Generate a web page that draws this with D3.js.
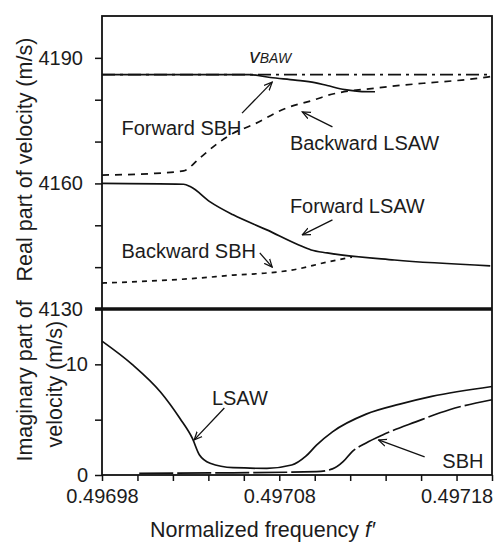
<!DOCTYPE html>
<html>
<head>
<meta charset="utf-8">
<script src="https://cdn.jsdelivr.net/npm/d3@7/dist/d3.min.js"></script>
<style>
body { margin: 0; background: #fff; }
text { font-family: "Liberation Sans", Arial, sans-serif; fill: #1c1c1c; }
</style>
</head>
<body>
<svg width="498" height="543"></svg>
<script>
// normalized frequency f' and velocities
var fBAW = [0.49698, 0.49720];
var vBAW = [4186, 4186];

var fFwdSBH = [0.496980, 0.497063, 0.497075, 0.497089, 0.497100, 0.497107, 0.497117, 0.497125, 0.497134];
var vFwdSBH = [4186.0, 4186.0, 4185.3, 4184.7, 4184.1, 4183.4, 4182.4, 4182.0, 4181.9];

var fBwdLSAW = [0.496980, 0.497010, 0.497026, 0.497035, 0.497045, 0.497054, 0.497065, 0.497084, 0.497100, 0.497107, 0.497135, 0.497163, 0.497183, 0.497199];
var vBwdLSAW = [4162.0, 4162.4, 4163.0, 4166.0, 4169.5, 4172.0, 4174.0, 4178.0, 4180.0, 4181.0, 4182.8, 4184.0, 4184.7, 4185.5];

var fFwdLSAW = [0.496980, 0.497026, 0.497030, 0.497041, 0.497054, 0.497073, 0.497091, 0.497098, 0.497107, 0.497145, 0.497199];
var vFwdLSAW = [4160.0, 4159.8, 4159.2, 4155.6, 4152.5, 4148.9, 4145.3, 4144.1, 4143.4, 4141.7, 4140.3];

var fBwdSBH = [0.496980, 0.497017, 0.497035, 0.497054, 0.497073, 0.497087, 0.497107, 0.497121];
var vBwdSBH = [4136.2, 4136.9, 4137.4, 4138.1, 4138.6, 4139.3, 4141.2, 4142.4];

// imaginary part
var fImLSAW = [0.496980, 0.496997, 0.497013, 0.497024, 0.497031, 0.497035, 0.497041, 0.497054, 0.497073, 0.497087, 0.497095, 0.497101, 0.497110, 0.497129, 0.497148, 0.497166, 0.497200];
var iImLSAW = [12.1, 10.0, 7.5, 5.1, 3.3, 1.8, 1.06, 0.66, 0.6, 0.9, 1.7, 2.7, 3.9, 5.5, 6.4, 7.1, 8.0];

var fImSBH = [0.497001, 0.497054, 0.497101, 0.497110, 0.497116, 0.497121, 0.497129, 0.497138, 0.497157, 0.497176, 0.497200];
var iImSBH = [0.15, 0.2, 0.3, 0.55, 1.2, 2.1, 2.9, 3.6, 4.8, 5.9, 6.8];

var reTicks = [4130, 4140, 4150, 4160, 4170, 4180, 4190];
var reLabels = [4130, 4160, 4190];
var imTicks = [0, 5, 10];
var imLabels = [0, 10];
var fTicks = d3.range(0, 12).map(function(i) { return 0.49698 + i * 0.00002; });
var fLabels = ["0.49698", "0.49708", "0.49718"];

// annotations in data units
var reNotes = [
  {text: "Forward SBH", f: 0.496991, v: 4171.6},
  {text: "Backward LSAW", f: 0.497086, v: 4168.0},
  {text: "Forward LSAW", f: 0.497086, v: 4152.9},
  {text: "Backward SBH", f: 0.496991, v: 4142.2}
];
var reArrows = [
  {f1: 0.497059, v1: 4176.8, f2: 0.497076, v2: 4184.2},
  {f1: 0.497110, v1: 4173.5, f2: 0.497093, v2: 4177.1},
  {f1: 0.497110, v1: 4151.3, f2: 0.497093, v2: 4147.7},
  {f1: 0.497069, v1: 4143.4, f2: 0.497076, v2: 4140.0}
];
var imNotes = [
  {text: "LSAW", f: 0.497042, v: 6.33},
  {text: "SBH", f: 0.497172, v: 0.63}
];
var imArrows = [
  {f1: 0.497049, v1: 6.06, f2: 0.497032, v2: 3.17},
  {f1: 0.497162, v1: 1.63, f2: 0.497136, v2: 3.17}
];

var svg = d3.select("svg");
var plotLeft = 102, plotRight = 492, plotTop = 16, plotMid = 309, plotBottom = 475;

var x = d3.scaleLinear().domain([0.49698, 0.49720]).range([plotLeft, plotRight]);
var yRe = d3.scaleLinear().domain([4130, 4200]).range([plotMid, plotTop]);
var yIm = d3.scaleLinear().domain([0, 15]).range([plotBottom, plotMid]);

// arrow head
svg.append("defs").append("marker")
    .attr("id", "head")
    .attr("viewBox", "0 0 10 10")
    .attr("refX", 9).attr("refY", 5)
    .attr("markerWidth", 9).attr("markerHeight", 9)
    .attr("markerUnits", "userSpaceOnUse")
    .attr("orient", "auto")
  .append("path")
    .attr("d", "M0,1 L9,5 L0,9")
    .attr("fill", "none")
    .attr("stroke", "#111")
    .attr("stroke-width", 1.4);

// axes
var gRe = svg.append("g")
    .attr("transform", "translate(" + plotLeft + ",0)")
    .call(d3.axisLeft(yRe).tickValues(reTicks).tickSize(7).tickPadding(12)
        .tickFormat(function(d) { return reLabels.indexOf(d) >= 0 ? d : ""; }));

var gIm = svg.append("g")
    .attr("transform", "translate(" + plotLeft + ",0)")
    .call(d3.axisLeft(yIm).tickValues(imTicks).tickSize(7).tickPadding(7)
        .tickFormat(function(d) { return imLabels.indexOf(d) >= 0 ? d : ""; }));

var gX = svg.append("g")
    .attr("transform", "translate(0," + plotBottom + ")")
    .call(d3.axisBottom(x).tickValues(fTicks).tickSize(6).tickPadding(8)
        .tickFormat(function(d, i) { return i % 5 == 0 ? fLabels[i / 5] : ""; }));

[gRe, gIm, gX].forEach(function(g) {
  g.select(".domain").remove();
  g.attr("font-size", 20).attr("font-family", null);
  g.selectAll("line").attr("stroke", "#111").attr("stroke-width", 1.5);
  g.selectAll("text").attr("fill", "#1c1c1c");
});

// frame
var frame = svg.append("g").attr("fill", "none").attr("stroke", "#111");
frame.append("rect")
    .attr("x", plotLeft).attr("y", plotTop)
    .attr("width", plotRight - plotLeft).attr("height", plotBottom - plotTop)
    .attr("stroke-width", 1.8);
frame.append("line")
    .attr("x1", plotLeft - 7).attr("x2", plotRight)
    .attr("y1", plotMid).attr("y2", plotMid)
    .attr("stroke-width", 3.5);

function zip(fs, vs) {
  return fs.map(function(f, i) { return [f, vs[i]]; });
}

var lineRe = d3.line()
    .x(function(d) { return x(d[0]); })
    .y(function(d) { return yRe(d[1]); })
    .curve(d3.curveMonotoneX);
var lineIm = d3.line()
    .x(function(d) { return x(d[0]); })
    .y(function(d) { return yIm(d[1]); })
    .curve(d3.curveMonotoneX);

var series = [
  {line: lineRe, data: zip(fBAW, vBAW), dash: "13,5,3,5"},
  {line: lineRe, data: zip(fFwdSBH, vFwdSBH), dash: null},
  {line: lineRe, data: zip(fBwdLSAW, vBwdLSAW), dash: "7,6"},
  {line: lineRe, data: zip(fFwdLSAW, vFwdLSAW), dash: null},
  {line: lineRe, data: zip(fBwdSBH, vBwdSBH), dash: "5,5"},
  {line: lineIm, data: zip(fImLSAW, iImLSAW), dash: null},
  {line: lineIm, data: zip(fImSBH, iImSBH), dash: "34,4"}
];

svg.append("g").selectAll("path")
  .data(series)
  .enter().append("path")
    .attr("d", function(d) { return d.line(d.data); })
    .attr("fill", "none")
    .attr("stroke", "#111")
    .attr("stroke-width", 1.7)
    .attr("stroke-dasharray", function(d) { return d.dash; });

// labels and arrows
svg.append("g").selectAll("text")
  .data(reNotes)
  .enter().append("text")
    .attr("x", function(d) { return x(d.f); })
    .attr("y", function(d) { return yRe(d.v); })
    .attr("font-size", 20)
    .text(function(d) { return d.text; });

svg.append("g").selectAll("text")
  .data(imNotes)
  .enter().append("text")
    .attr("x", function(d) { return x(d.f); })
    .attr("y", function(d) { return yIm(d.v); })
    .attr("font-size", 20)
    .text(function(d) { return d.text; });

svg.append("g").selectAll("line")
  .data(reArrows.map(function(a) { return {x1: x(a.f1), y1: yRe(a.v1), x2: x(a.f2), y2: yRe(a.v2)}; })
    .concat(imArrows.map(function(a) { return {x1: x(a.f1), y1: yIm(a.v1), x2: x(a.f2), y2: yIm(a.v2)}; })))
  .enter().append("line")
    .attr("x1", function(d) { return d.x1; })
    .attr("y1", function(d) { return d.y1; })
    .attr("x2", function(d) { return d.x2; })
    .attr("y2", function(d) { return d.y2; })
    .attr("stroke", "#111")
    .attr("stroke-width", 1.3)
    .attr("marker-end", "url(#head)");

// v_BAW label
var vb = svg.append("text")
    .attr("x", x(0.497063))
    .attr("y", yRe(4188.8))
    .attr("font-style", "italic");
vb.append("tspan").attr("font-size", 21).text("v");
vb.append("tspan").attr("font-size", 14).text("BAW");

// axis titles
svg.append("text")
    .attr("transform", "translate(32," + yRe(4165.7) + ") rotate(-90)")
    .attr("text-anchor", "middle")
    .attr("font-size", 21.5)
    .text("Real part of velocity (m/s)");

svg.append("text")
    .attr("transform", "translate(32," + yIm(8.5) + ") rotate(-90)")
    .attr("text-anchor", "middle")
    .attr("font-size", 21.5)
    .text("Imaginary part of");

svg.append("text")
    .attr("transform", "translate(62," + yIm(8.2) + ") rotate(-90)")
    .attr("text-anchor", "middle")
    .attr("font-size", 21.5)
    .text("velocity (m/s)");

var xt = svg.append("text")
    .attr("x", 150)
    .attr("y", 537)
    .attr("font-size", 21.5)
    .text("Normalized frequency ");
xt.append("tspan").attr("font-style", "italic").text("f\u2032");
</script>
</body>
</html>
